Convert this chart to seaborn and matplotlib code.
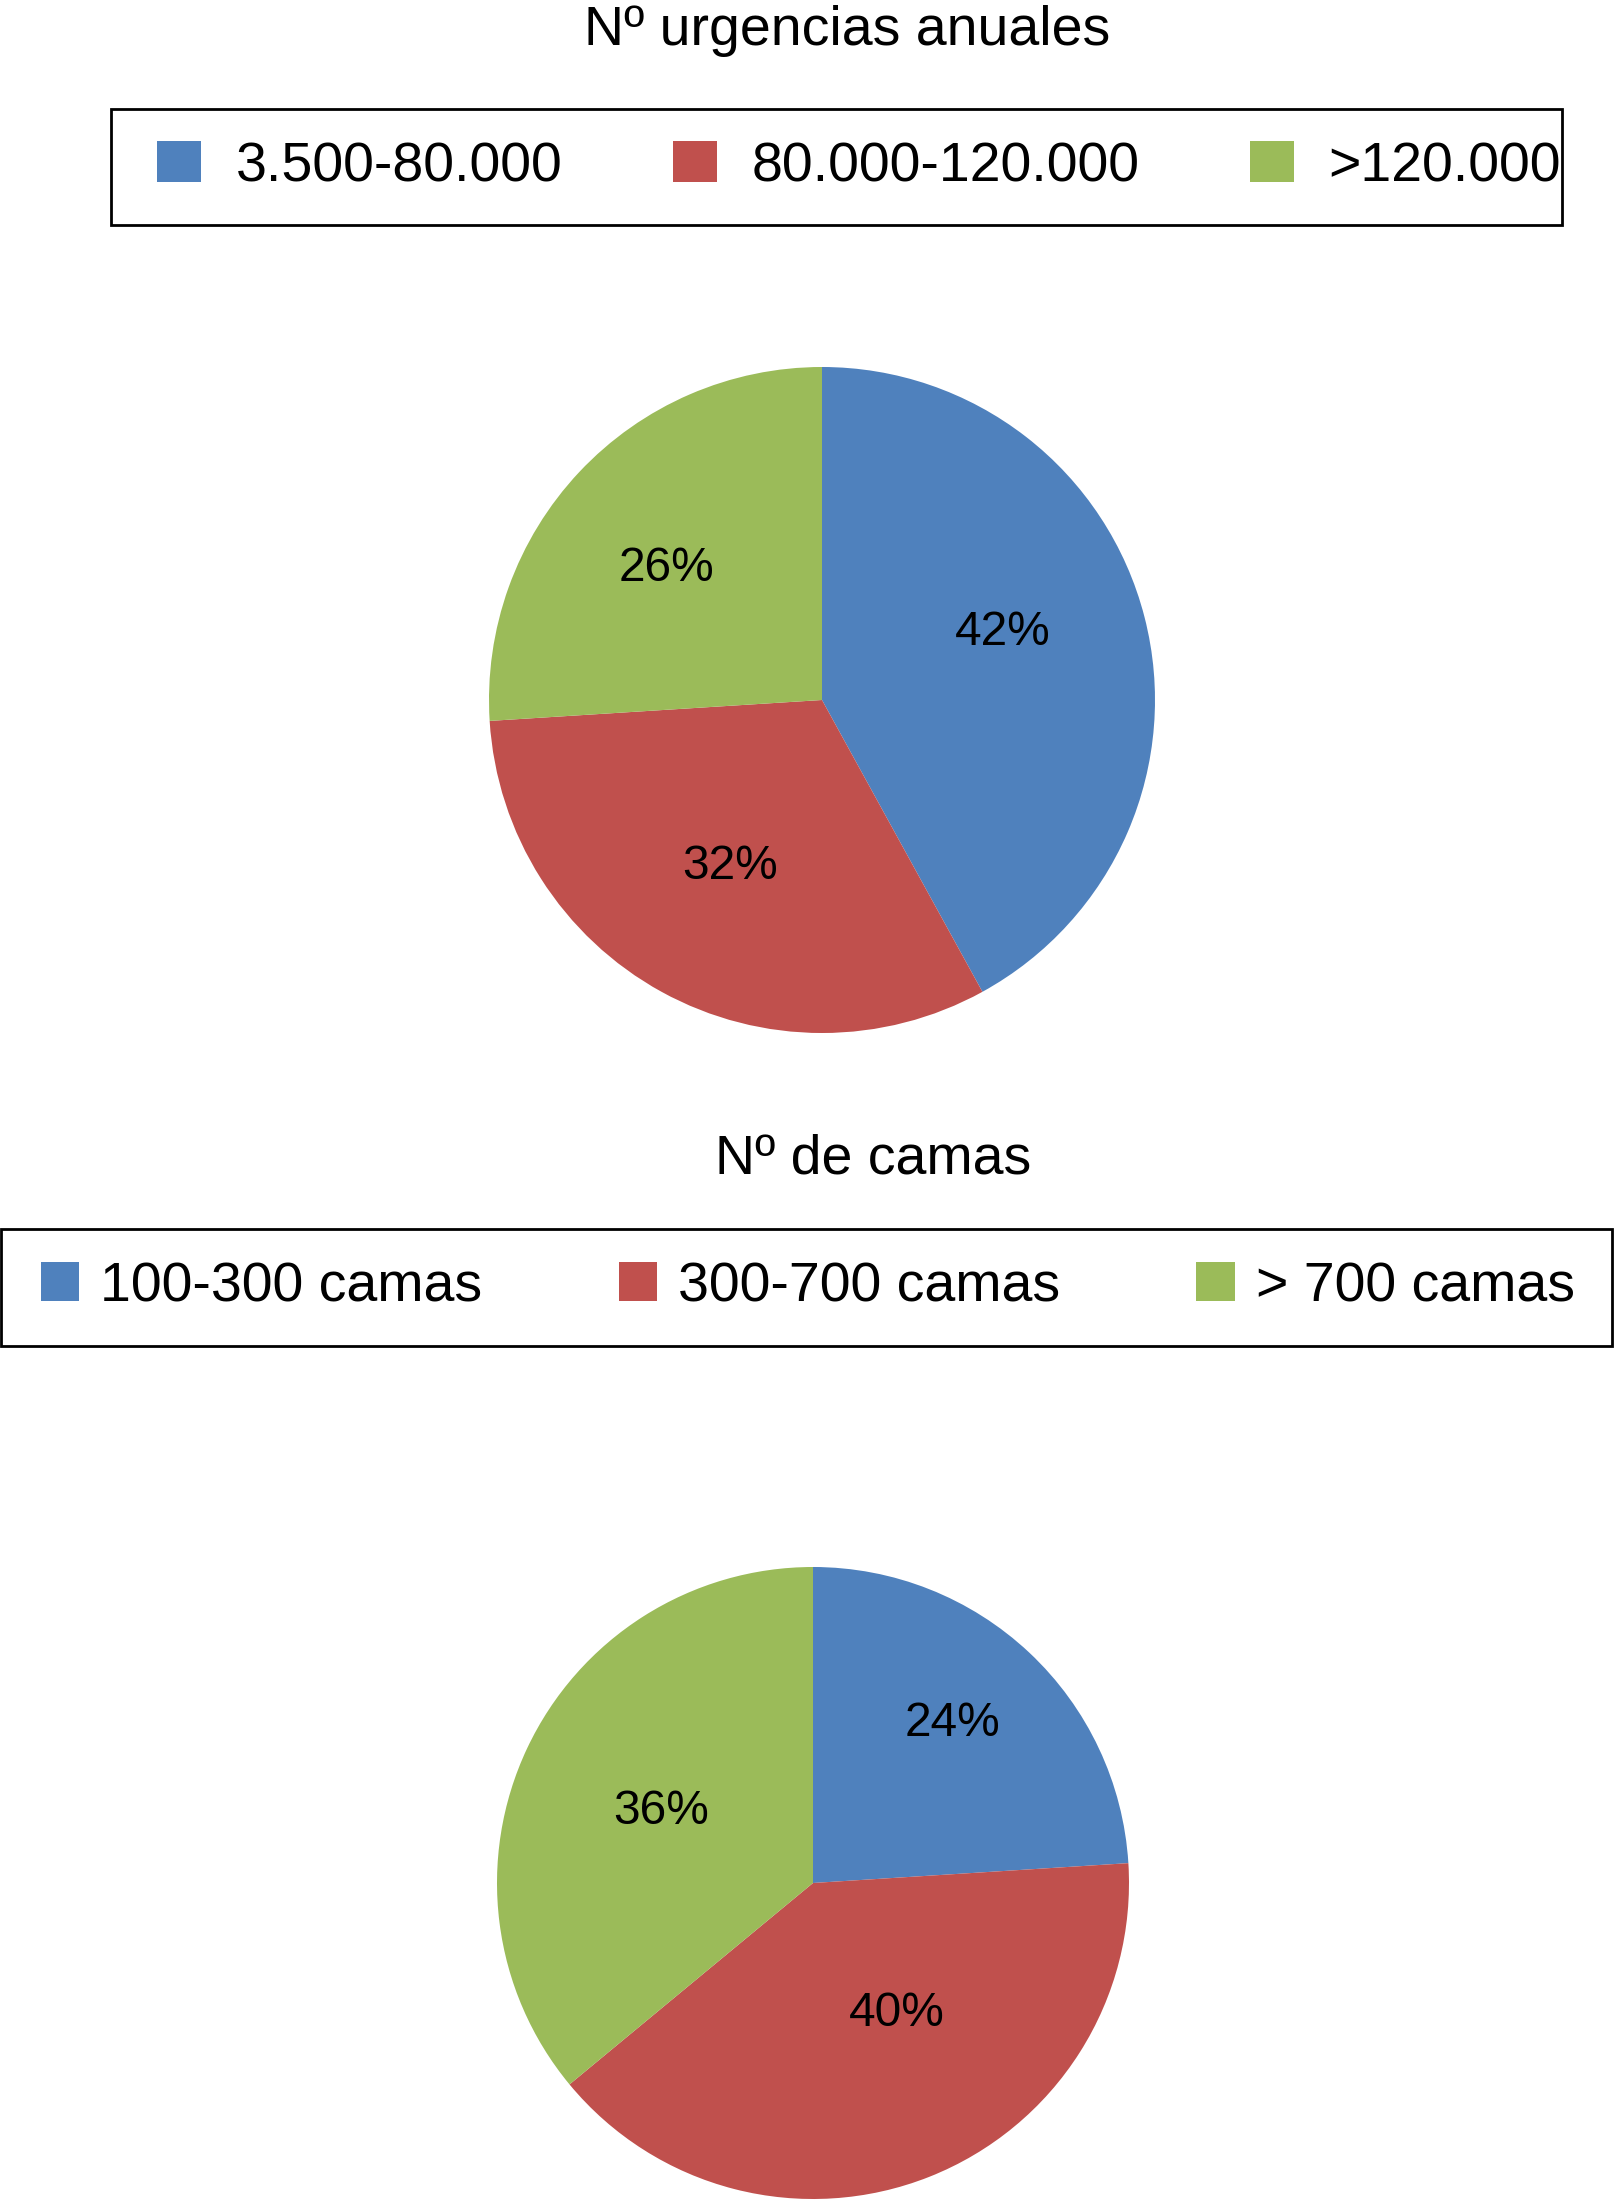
import numpy as np
import matplotlib
matplotlib.use("Agg")
import matplotlib.pyplot as plt
from matplotlib.patches import Patch, Rectangle
import seaborn as sns

# Datos de los dos gráficos de sectores
urg_labels = ["3.500-80.000", "80.000-120.000", ">120.000"]
urg_values = [42, 32, 26]
camas_labels = ["100-300 camas", "300-700 camas", "> 700 camas"]
camas_values = [24, 40, 36]
colores = ["#4F81BD", "#C0504D", "#9BBB59"]

sns.set_theme(style="white")
plt.rcParams['font.family'] = ['Liberation Sans', 'DejaVu Sans']
plt.rcParams['text.color'] = 'black'

W, H = 1618, 2201
fig = plt.figure(figsize=(W / 100, H / 100), dpi=100)


def px_axes(cx, cy, r):
    # Ejes cuadrados centrados en (cx, cy) en píxeles desde arriba
    return fig.add_axes([(cx - r) / W, (H - cy - r) / H, 2 * r / W, 2 * r / H])


def dibuja_pie(ax, values, pos_etiquetas):
    wedges, _, autotexts = ax.pie(values, colors=colores, startangle=90, counterclock=False,
                                  autopct=lambda p: f"{p:.0f}%",
                                  wedgeprops={"linewidth": 0},
                                  textprops={"fontsize": 34.5, "color": "black"})
    # colocación de las etiquetas como en el original (distancia, giro en grados)
    for w, t, (d, da) in zip(wedges, autotexts, pos_etiquetas):
        th = np.deg2rad((w.theta1 + w.theta2) / 2 + da)
        t.set_position((d * np.cos(th), d * np.sin(th)))
    ax.set_xlim(-1, 1)
    ax.set_ylim(-1, 1)
    ax.set_aspect("equal")
    ax.axis("off")


def leyenda(labels, x_left, y_center, hl, hh, pad, colsp):
    handles = [Patch(facecolor=c, edgecolor="none") for c in colores]
    fig.legend(handles, labels, loc="center left",
               bbox_to_anchor=(x_left / W, 1 - y_center / H),
               ncol=3, frameon=False, fontsize=40, borderpad=0,
               borderaxespad=0, handlelength=hl, handleheight=hh,
               handletextpad=pad, columnspacing=colsp, labelcolor="black")


def caja(x0, y0, x1, y1):
    fig.patches.append(Rectangle((x0 / W, 1 - y1 / H), (x1 - x0) / W, (y1 - y0) / H,
                                 transform=fig.transFigure, fill=False,
                                 edgecolor="black", linewidth=2))


# Gráfico superior
fig.text(847 / W, 1 - 45 / H, "Nº urgencias anuales", ha="center", va="baseline", fontsize=40)
caja(111, 109, 1562, 225)
leyenda(urg_labels, 157, 167, 0.8, 0.75, 0.62, 1.98)
ax1 = px_axes(822, 700, 333)
dibuja_pie(ax1, urg_values, [(0.58, 6), (0.57, 0), (0.61, 3)])

# Gráfico inferior
fig.text(873 / W, 1 - 1174 / H, "Nº de camas", ha="center", va="baseline", fontsize=40)
caja(1, 1229, 1612, 1346)
leyenda(camas_labels, 41, 1287, 0.69, 0.69, 0.38, 2.45)
ax2 = px_axes(813, 1883, 316)
dibuja_pie(ax2, camas_values, [(0.67, 2), (0.49, 11), (0.53, 0)])

fig.savefig("out.png", dpi=100)
